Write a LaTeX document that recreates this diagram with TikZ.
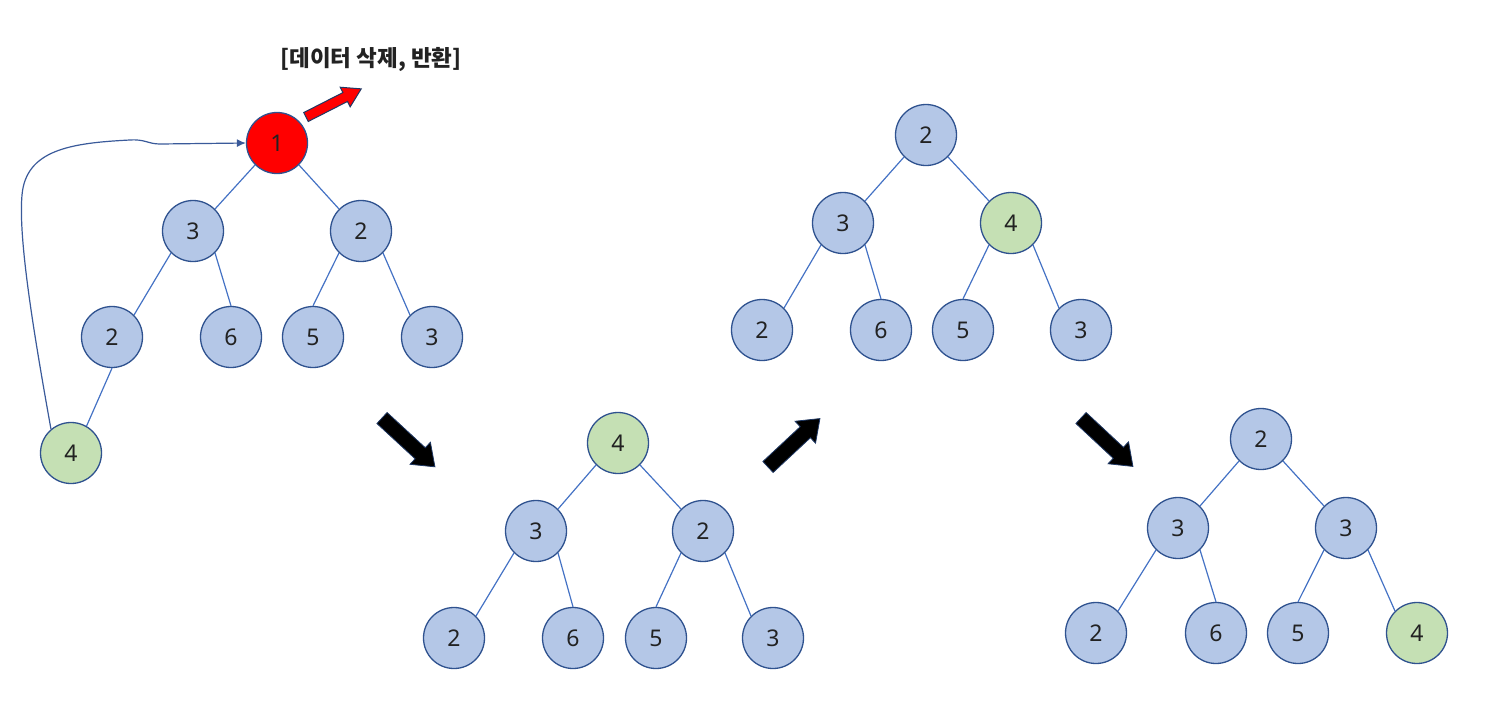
\documentclass[tikz,border=0pt]{standalone}
\usepackage{fontspec}
\setmainfont{Noto Sans}
\newfontfamily\krfont{Noto Sans CJK KR}
\usetikzlibrary{arrows.meta}
\definecolor{ndblue}{HTML}{B4C7E7}
\definecolor{ndgreen}{HTML}{C5E0B4}
\definecolor{ndborder}{HTML}{2F528F}
\definecolor{edgec}{HTML}{4472C4}
\definecolor{curvec}{HTML}{3A5A9A}
\definecolor{txt}{HTML}{222222}
\definecolor{arrowedge}{HTML}{1F3864}
\begin{document}
\begin{tikzpicture}[x=1pt,y=-1pt,
  nd/.style={circle, draw=ndborder, line width=1.3pt, fill=ndblue, minimum size=61pt, inner sep=0pt, font=\fontsize{23}{23}\selectfont, text=txt},
  gr/.style={nd, fill=ndgreen},
  rd/.style={nd, fill=red},
  edge/.style={draw=edgec, line width=1.2pt},
  blk/.style={fill=black, draw=arrowedge, line width=0.8pt, line join=miter},
  rdarrow/.style={fill=red, draw=arrowedge, line width=1pt, line join=miter}
]
\useasboundingbox (0,0) rectangle (1500,718);

% ---------- Tree 1 ----------
\node[rd] (a0) at (277,143) {1};
\node[nd] (a1) at (193,231) {3};
\node[nd] (a2) at (361,231) {2};
\node[nd] (a3) at (112,337) {2};
\node[nd] (a4) at (231,337) {6};
\node[nd] (a5) at (313,337) {5};
\node[nd] (a6) at (432,337) {3};
\node[gr] (a7) at (71,453) {4};
\draw[edge] (a0.south west) -- (a1.north east);
\draw[edge] (a0.south east) -- (a2.north west);
\draw[edge] (a1.south west) -- (a3.north east);
\draw[edge] (a1.south east) -- (a4.north);
\draw[edge] (a2.south west) -- (a5.north);
\draw[edge] (a2.south east) -- (a6.north west);
\draw[edge] (a3.south) -- (a7.60);
\draw[draw=curvec, line width=1.2pt, -{Latex[length=9pt,width=8pt]}]
  (a7.130) .. controls (35,340) and (18,240) .. (22,195)
  .. controls (26,150) and (70,143) .. (130,140)
  .. controls (145,139) and (148,144) .. (160,144) -- (a0.west);

% red arrow and label
\begin{scope}[shift={(306,117)}, rotate=27]
  \draw[rdarrow] (0,-5) -- (44,-5) -- (44,-11) -- (62,0) -- (44,11) -- (44,5) -- (0,5) -- cycle;
\end{scope}
\node[font=\krfont\bfseries\fontsize{22.5}{22.5}\selectfont, text=txt] (lbl) at (371,60) {[데이터 삭제, 반환]};

% black arrows
\begin{scope}[shift={(382,418)}, rotate=-42.7]
  \draw[blk] (0,-7.5) -- (52,-7.5) -- (52,-15) -- (72,0) -- (52,15) -- (52,7.5) -- (0,7.5) -- cycle;
\end{scope}
\begin{scope}[shift={(768,467)}, rotate=43]
  \draw[blk] (0,-7.5) -- (51,-7.5) -- (51,-15) -- (71,0) -- (51,15) -- (51,7.5) -- (0,7.5) -- cycle;
\end{scope}
\begin{scope}[shift={(1081,418)}, rotate=-43]
  \draw[blk] (0,-7.5) -- (51,-7.5) -- (51,-15) -- (71,0) -- (51,15) -- (51,7.5) -- (0,7.5) -- cycle;
\end{scope}

% ---------- Tree 2 ----------
\node[gr] (b0) at (618,443) {4};
\node[nd] (b1) at (536,531) {3};
\node[nd] (b2) at (703,531) {2};
\node[nd] (b3) at (454,638) {2};
\node[nd] (b4) at (573,638) {6};
\node[nd] (b5) at (656,638) {5};
\node[nd] (b6) at (773,638) {3};
\draw[edge] (b0.south west) -- (b1.north east);
\draw[edge] (b0.south east) -- (b2.north west);
\draw[edge] (b1.south west) -- (b3.north east);
\draw[edge] (b1.south east) -- (b4.north);
\draw[edge] (b2.south west) -- (b5.north);
\draw[edge] (b2.south east) -- (b6.north west);

% ---------- Tree 3 ----------
\node[nd] (c0) at (926,135) {2};
\node[nd] (c1) at (843,223) {3};
\node[gr] (c2) at (1011,223) {4};
\node[nd] (c3) at (762,330) {2};
\node[nd] (c4) at (881,330) {6};
\node[nd] (c5) at (963,330) {5};
\node[nd] (c6) at (1081,330) {3};
\draw[edge] (c0.south west) -- (c1.north east);
\draw[edge] (c0.south east) -- (c2.north west);
\draw[edge] (c1.south west) -- (c3.north east);
\draw[edge] (c1.south east) -- (c4.north);
\draw[edge] (c2.south west) -- (c5.north);
\draw[edge] (c2.south east) -- (c6.north west);

% ---------- Tree 4 ----------
\node[nd] (d0) at (1261,439) {2};
\node[nd] (d1) at (1178,528) {3};
\node[nd] (d2) at (1346,528) {3};
\node[nd] (d3) at (1096,633) {2};
\node[nd] (d4) at (1216,633) {6};
\node[nd] (d5) at (1298,633) {5};
\node[gr] (d6) at (1417,633) {4};
\draw[edge] (d0.south west) -- (d1.north east);
\draw[edge] (d0.south east) -- (d2.north west);
\draw[edge] (d1.south west) -- (d3.north east);
\draw[edge] (d1.south east) -- (d4.north);
\draw[edge] (d2.south west) -- (d5.north);
\draw[edge] (d2.south east) -- (d6.north west);
\end{tikzpicture}
\end{document}
